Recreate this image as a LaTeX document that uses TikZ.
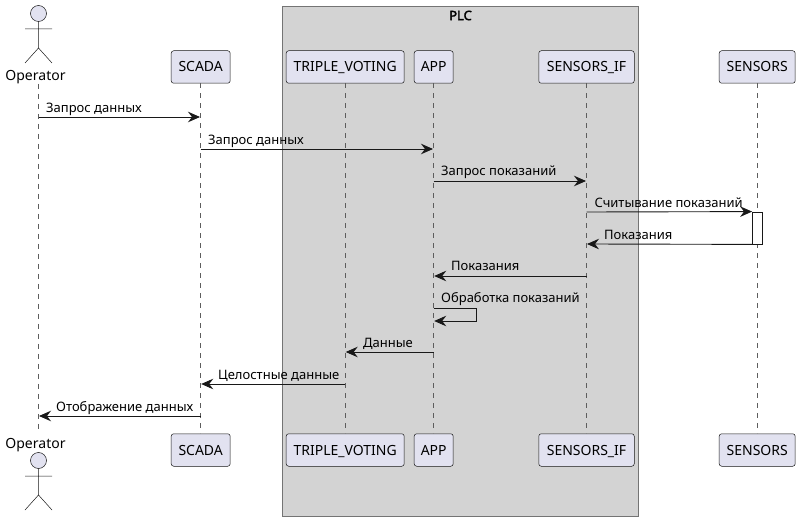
\documentclass[tikz,border=0pt]{standalone}
\usepackage{fontspec}
\setmainfont{Noto Sans}
\newfontfamily\plcfont{Noto Sans}[FakeBold=2.5]
\usetikzlibrary{arrows.meta}
\definecolor{partfill}{HTML}{E2E2F0}
\definecolor{partline}{HTML}{181818}
\definecolor{plcfill}{HTML}{D3D3D3}
\tikzset{
  part/.style={draw=partline,line width=0.5pt,fill=partfill,rounded corners=2.5pt,font=\fontsize{14}{16}\selectfont,text=black,minimum height=32.5pt,inner sep=0pt,text height=10pt,text depth=0pt},
  actorname/.style={font=\fontsize{14}{16}\selectfont,text=black,inner sep=0pt},
  actorline/.style={draw=partline,line width=0.5pt},
  life/.style={draw=partline!70,line width=0.5pt,dash pattern=on 5pt off 5pt},
  msg/.style={draw=partline,line width=0.9pt,-{Stealth[length=12pt,width=10.5pt,inset=4pt,fill=partline]}},
  msgtext/.style={font=\fontsize{13}{15}\selectfont,text=black,inner sep=0pt,anchor=base west},
}
\begin{document}
\begin{tikzpicture}[x=1pt,y=-1pt]
\useasboundingbox (0,0) rectangle (801,521);
\draw[draw=partline!60,fill=plcfill,line width=0.8pt] (282.5,6.5) rectangle (638,516.5);
\node[font=\fontsize{13}{15}\selectfont\plcfont,text=black,inner sep=0pt] (PLC) at (460.5,15.5) {PLC};

% top row
\node[actorname] (OperatorTop) at (35.5,77.5) {Operator};
\node[part,minimum width=59pt] (SCADATop) at (200.7,67) {SCADA};
\node[part,minimum width=118pt] (VotingTop) at (345.2,67) {TRIPLE\_VOTING};
\node[part,minimum width=39pt] (APPTop) at (433.7,67) {APP};
\node[part,minimum width=95.5pt] (IFTop) at (586.5,67) {SENSORS\_IF};
\node[part,minimum width=76pt] (SensorsTop) at (757.2,67) {SENSORS};

% bottom row
\node[actorname] (OperatorBot) at (35.5,445.5) {Operator};
\node[part,minimum width=59pt] (SCADABot) at (200.7,450) {SCADA};
\node[part,minimum width=118pt] (VotingBot) at (345.2,450) {TRIPLE\_VOTING};
\node[part,minimum width=39pt] (APPBot) at (433.7,450) {APP};
\node[part,minimum width=95.5pt] (IFBot) at (586.5,450) {SENSORS\_IF};
\node[part,minimum width=76pt] (SensorsBot) at (757.2,450) {SENSORS};

% actors
\draw[actorline,fill=partfill] (38.5,13.5) circle (8pt);
\draw[actorline] (38.5,21.5) -- (38.5,48) (25,29) -- (52,29) (25,63) -- (38.5,48) -- (52,63);
\draw[actorline,fill=partfill] (38.5,460.5) circle (8pt);
\draw[actorline] (38.5,468.5) -- (38.5,495) (25,476) -- (52,476) (25,510) -- (38.5,495) -- (52,510);

% lifelines
\coordinate (OperatorA) at (38.5,84);
\coordinate (OperatorB) at (38.5,433);
\draw[life] (OperatorA) -- (OperatorB);
\draw[life] (SCADATop) -- (SCADABot);
\draw[life] (VotingTop) -- (VotingBot);
\draw[life] (APPTop) -- (APPBot);
\draw[life] (IFTop) -- (IFBot);
\draw[life] (SensorsTop) -- (SensorsBot);
\node[draw=partline,fill=white,line width=0.8pt,minimum width=10pt,minimum height=32pt,inner sep=0pt] (SensorsAct) at (757.5,228) {};

% messages
\coordinate (m1a) at (38.5,117);
\coordinate (m1b) at (200,117);
\coordinate (m2a) at (200.7,149);
\coordinate (m2b) at (433,149);
\coordinate (m3a) at (433.7,181);
\coordinate (m3b) at (586,181);
\coordinate (m4a) at (586.5,212);
\coordinate (m5b) at (587,244);
\coordinate (m6a) at (586.5,276);
\coordinate (m6b) at (434.2,276);
\coordinate (m7a) at (433.7,308);
\coordinate (m7b) at (476.5,308);
\coordinate (m7c) at (476.5,321);
\coordinate (m7d) at (434.2,321);
\coordinate (m8a) at (433.7,352);
\coordinate (m8b) at (345.7,352);
\coordinate (m9a) at (345.2,384);
\coordinate (m9b) at (201.2,384);
\coordinate (m10a) at (200.7,416);
\coordinate (m10b) at (39,416);

\draw[msg] (m1a) -- (m1b);
\node[msgtext] (t1) at (46,113) {Запрос данных};
\draw[msg] (m2a) -- (m2b);
\node[msgtext] (t2) at (208,145) {Запрос данных};
\draw[msg] (m3a) -- (m3b);
\node[msgtext] (t3) at (441,176) {Запрос показаний};
\draw[msg] (m4a) -- (SensorsAct.north west);
\node[msgtext] (t4) at (594.5,208) {Считывание показаний};
\draw[msg] (SensorsAct.south west) -- (m5b);
\node[msgtext] (t5) at (604,240) {Показания};
\draw[msg] (m6a) -- (m6b);
\node[msgtext] (t6) at (451,271) {Показания};
\draw[msg] (m7a) -- (m7b) -- (m7c) -- (m7d);
\node[msgtext] (t7) at (441,303) {Обработка показаний};
\draw[msg] (m8a) -- (m8b);
\node[msgtext] (t8) at (363,348) {Данные};
\draw[msg] (m9a) -- (m9b);
\node[msgtext] (t9) at (218,380) {Целостные данные};
\draw[msg] (m10a) -- (m10b);
\node[msgtext] (t10) at (56,411) {Отображение данных};
\end{tikzpicture}
\end{document}
